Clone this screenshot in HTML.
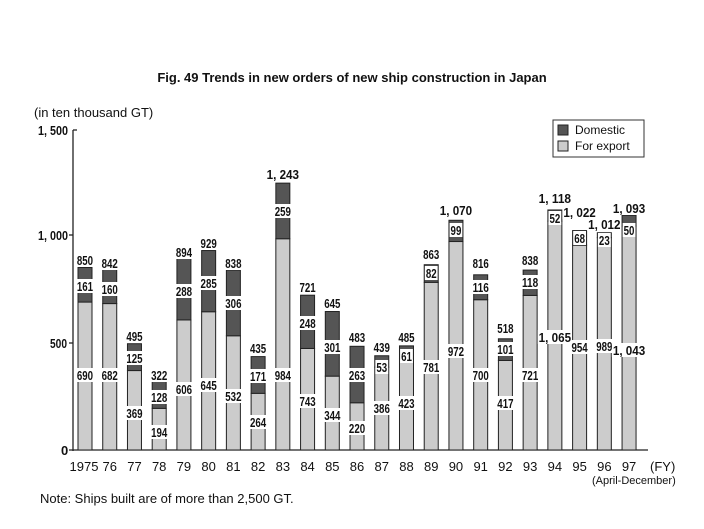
<!DOCTYPE html>
<html><head><meta charset="utf-8"><style>
html,body{margin:0;padding:0;background:#fff;}
svg{display:block;font-family:"Liberation Sans",sans-serif;}
.n{font-family:"Liberation Sans",sans-serif;font-weight:bold;font-size:13px;fill:#111;}
</style></head><body>
<svg id="s" width="704" height="529" viewBox="0 0 704 529" xmlns="http://www.w3.org/2000/svg">
<rect width="704" height="529" fill="#fff"/>
<text x="352" y="82" text-anchor="middle" font-size="13" font-weight="bold" fill="#111">Fig. 49 Trends in new orders of new ship construction in Japan</text>
<text x="34" y="117" font-size="13" fill="#111">(in ten thousand GT)</text>
<g class="n">
<text x="38" y="135" textLength="30" lengthAdjust="spacingAndGlyphs">1, 500</text>
<text x="38" y="240" textLength="30" lengthAdjust="spacingAndGlyphs">1, 000</text>
<text x="50" y="348" textLength="17" lengthAdjust="spacingAndGlyphs">500</text>
<text x="61" y="455">0</text>
</g>
<line x1="73" y1="130" x2="73" y2="451" stroke="#222" stroke-width="1.3"/>
<line x1="73" y1="130" x2="77" y2="130" stroke="#222" stroke-width="1.3"/>
<line x1="69" y1="235" x2="73" y2="235" stroke="#222" stroke-width="1.3"/>
<line x1="69" y1="343" x2="73" y2="343" stroke="#222" stroke-width="1.3"/>
<line x1="69" y1="450" x2="648" y2="450" stroke="#222" stroke-width="1.3"/>
<rect x="553" y="120" width="91" height="37" fill="#fff" stroke="#333" stroke-width="1"/>
<rect x="558" y="125" width="10" height="10" fill="#555" stroke="#222"/>
<rect x="558" y="141" width="10" height="10" fill="#ccc" stroke="#222"/>
<text x="575" y="134" font-size="12" fill="#111">Domestic</text>
<text x="575" y="150" font-size="12" fill="#111">For export</text>
<g id="bars"></g>
<text x="650" y="471" font-size="13" fill="#111">(FY)</text>
<text x="592" y="484" font-size="11" fill="#111">(April-December)</text>
<text x="40" y="503" font-size="13" fill="#111">Note: Ships built are of more than 2,500 GT.</text>
</svg>
<script>
var d=[
["1975",850,161,690,260,286,375],["76",842,160,682,263,289,375],["77",495,125,369,336,358,413],
["78",322,128,194,375,397,432],["79",894,288,606,252,291,389],["80",929,285,645,243,283,385],
["81",838,306,532,263,303,396],["82",435,171,264,348,376,422],["83",1243,259,984,174,211,375],
["84",721,248,743,287,323,401],["85",645,301,344,303,347,415],["86",483,263,220,337,375,428],
["87",439,53,386,347,367,408],["88",485,61,423,337,356,403],["89",863,82,781,254,273,367],
["90",1070,99,972,210,230,351],["91",816,116,700,263,287,375],["92",518,101,417,328,349,403],
["93",838,118,721,260,282,375],["94",1118,52,1065,198,218,337],["95",1022,68,954,212,238,347],
["96",1012,23,989,224,240,346],["97",1093,50,1043,208,230,350]];
function f(v){return v>=1000?"1, "+String(v-1000).padStart(3,"0"):String(v);}
var s="",k=0.2147,b=450;
d.forEach(function(r,i){
 var x=78+i*24.73,w=14,c=x+w/2;
 var dm=r[2],ex=r[1]-dm;
 var he=ex*k,hd=dm*k;
 s+='<rect x="'+x+'" y="'+(b-he)+'" width="'+w+'" height="'+he+'" fill="#ccc" stroke="#222" stroke-width="1"/>';
 s+='<rect x="'+x+'" y="'+(b-he-hd)+'" width="'+w+'" height="'+hd+'" fill="#555" stroke="#222" stroke-width="1"/>';
 [[f(r[1]),r[4]],[f(dm),r[5]],[f(r[3]),r[6]]].forEach(function(t){
  var n=t[0].length, tl=n*5.4, tw=tl+2;
  s+='<rect x="'+(c-tw/2)+'" y="'+(t[1]-7)+'" width="'+tw+'" height="14" fill="#fff"/>';
  s+='<text class="n" x="'+(c-tl/2)+'" y="'+(t[1]+5)+'" textLength="'+tl+'" lengthAdjust="spacingAndGlyphs">'+t[0]+'</text>';
 });
 s+='<text x="'+(i==0?c-1:c)+'" y="471" text-anchor="middle" font-size="13" fill="#111">'+r[0]+'</text>';
});
document.getElementById("bars").innerHTML=s;
</script>
</body></html>
